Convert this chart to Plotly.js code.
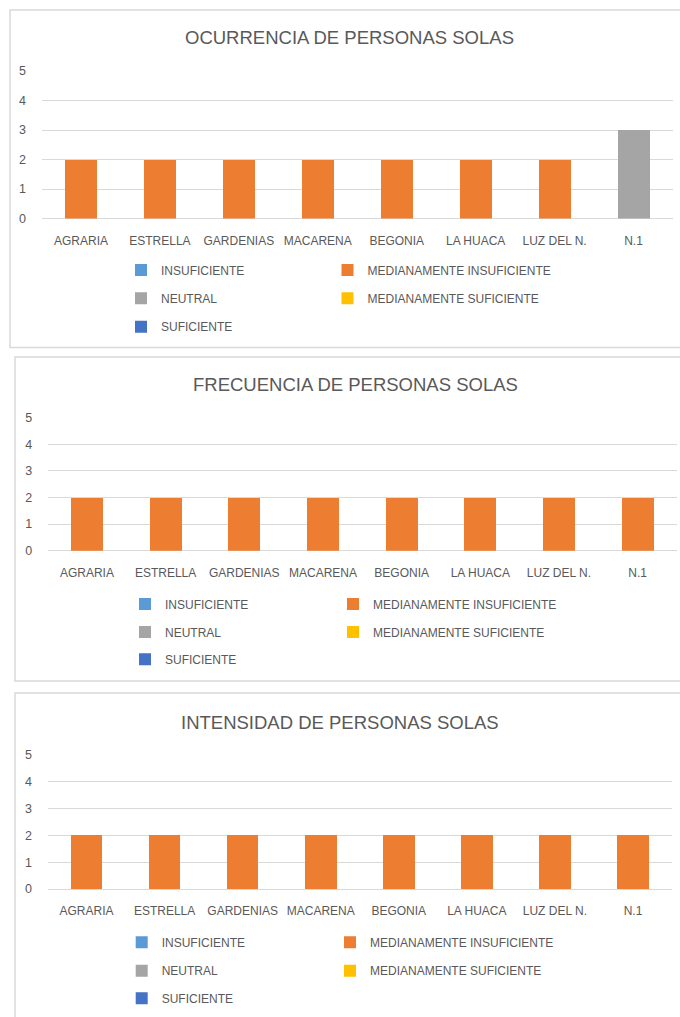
<!DOCTYPE html>
<html>
<head>
<meta charset="utf-8">
<script src="https://cdn.plot.ly/plotly-3.0.1.min.js"></script>
<style>
html,body{margin:0;padding:0;background:#fff;}
#chart{width:680px;height:1017px;}
</style>
</head>
<body>
<div id="chart"></div>
<script>
// ---- data ----
const categories = ["AGRARIA","ESTRELLA","GARDENIAS","MACARENA","BEGONIA","LA HUACA","LUZ DEL N.","N.1"];
const seriesNames = ["INSUFICIENTE","MEDIANAMENTE INSUFICIENTE","NEUTRAL","MEDIANAMENTE SUFICIENTE","SUFICIENTE"];
const chartTitles = ["OCURRENCIA DE PERSONAS SOLAS","FRECUENCIA DE PERSONAS SOLAS","INTENSIDAD DE PERSONAS SOLAS"];

// Ocurrencia
const ocurrenciaInsuficiente   = [0,0,0,0,0,0,0,0];
const ocurrenciaMedInsuf       = [2,2,2,2,2,2,2,0];
const ocurrenciaNeutral        = [0,0,0,0,0,0,0,3];
const ocurrenciaMedSuf         = [0,0,0,0,0,0,0,0];
const ocurrenciaSuficiente     = [0,0,0,0,0,0,0,0];
// Frecuencia
const frecuenciaInsuficiente   = [0,0,0,0,0,0,0,0];
const frecuenciaMedInsuf       = [2,2,2,2,2,2,2,2];
const frecuenciaNeutral        = [0,0,0,0,0,0,0,0];
const frecuenciaMedSuf         = [0,0,0,0,0,0,0,0];
const frecuenciaSuficiente     = [0,0,0,0,0,0,0,0];
// Intensidad
const intensidadInsuficiente   = [0,0,0,0,0,0,0,0];
const intensidadMedInsuf       = [2,2,2,2,2,2,2,2];
const intensidadNeutral        = [0,0,0,0,0,0,0,0];
const intensidadMedSuf         = [0,0,0,0,0,0,0,0];
const intensidadSuficiente     = [0,0,0,0,0,0,0,0];

const yTickVals = [0,1,2,3,4,5];

// ---- style ----
const colors = ["#5B9BD5","#ED7D31","#A5A5A5","#FFC000","#4472C4"];
const FONT = "'Liberation Sans', Arial, sans-serif";
const TXT = "#595959";
const GRID = "#D9D9D9";
const W = 680, H = 1017;
const px = v => v / W;
const py = v => 1 - v / H;

const chartSeries = [
  [ocurrenciaInsuficiente, ocurrenciaMedInsuf, ocurrenciaNeutral, ocurrenciaMedSuf, ocurrenciaSuficiente],
  [frecuenciaInsuficiente, frecuenciaMedInsuf, frecuenciaNeutral, frecuenciaMedSuf, frecuenciaSuficiente],
  [intensidadInsuficiente, intensidadMedInsuf, intensidadNeutral, intensidadMedSuf, intensidadSuficiente]
];

// layout geometry (pixels)
const geo = [
  {x0:41.5, x1:673, yTop:71,    yBot:218.5, title:[350,37.5],  box:[10,10,690,347.5],
   leg:{c1:161, c2:367.5, rows:[270,298.3,326.7]}},
  {x0:47.6, x1:677, yTop:417.7, yBot:550.7, title:[355.6,384], box:[15,357,690,681],
   leg:{c1:165, c2:373, rows:[604,632,659.3]}},
  {x0:47.5, x1:672, yTop:755,   yBot:889,   title:[340,722.3], box:[15,693,690,1030],
   leg:{c1:161.7, c2:370, rows:[942.3,970.7,998.3]}}
];
// legend slots: [col,row] for each series
const legSlots = [[1,0],[2,0],[1,1],[2,1],[1,2]];
const TEXTGAP = 40; // plotly legend text offset from legend left

const traces = [];
const layout = {
  width: W, height: H,
  margin: {l:0, r:0, t:0, b:0},
  paper_bgcolor: "#fff", plot_bgcolor: "rgba(0,0,0,0)",
  barmode: "stack",
  bargap: 0.595,
  font: {family: FONT, color: TXT, size: 12},
  showlegend: true,
  shapes: [], annotations: []
};

let legIdx = 0;
chartSeries.forEach((series, ci) => {
  const g = geo[ci];
  const sfx = ci === 0 ? "" : String(ci + 1);
  layout["xaxis" + sfx] = {
    domain: [px(g.x0), px(g.x1)],
    anchor: "y" + sfx,
    type: "category",
    tickangle: 0,
    showgrid: false, showline: false, zeroline: false,
    ticks: "outside", ticklen: 11, tickcolor: "rgba(0,0,0,0)",
    tickfont: {family: FONT, size: 12, color: TXT},
    fixedrange: true
  };
  layout["yaxis" + sfx] = {
    domain: [py(g.yBot), py(g.yTop)],
    anchor: "x" + sfx,
    range: [0, 5],
    tickvals: yTickVals,
    showgrid: true, gridcolor: GRID, gridwidth: 1.3,
    zeroline: true, zerolinecolor: GRID, zerolinewidth: 1.3,
    showline: false,
    ticks: "outside", ticklen: 12, tickcolor: "rgba(0,0,0,0)",
    tickfont: {family: FONT, size: 12.5, color: TXT},
    fixedrange: true
  };
  series.forEach((vals, si) => {
    legIdx++;
    const legName = legIdx === 1 ? "legend" : "legend" + legIdx;
    traces.push({
      type: "bar",
      x: categories, y: vals,
      name: seriesNames[si],
      xaxis: "x" + sfx, yaxis: "y" + sfx,
      marker: {color: colors[si], line: {width: 0}},
      legend: legName,
      hoverinfo: "x+y+name"
    });
    const slot = legSlots[si];
    const textX = slot[0] === 1 ? g.leg.c1 : g.leg.c2;
    layout[legName] = {
      x: px(textX - TEXTGAP), xanchor: "left",
      y: py(g.leg.rows[slot[1]]), yanchor: "middle",
      bgcolor: "rgba(0,0,0,0)", borderwidth: 0,
      font: {family: FONT, size: 12, color: TXT},
      orientation: "v"
    };
  });
  layout.annotations.push({
    xref: "paper", yref: "paper",
    x: px(g.title[0]), y: py(g.title[1]),
    xanchor: "center", yanchor: "middle",
    text: chartTitles[ci], showarrow: false,
    font: {family: FONT, size: 18.5, color: TXT}
  });
  layout.shapes.push({
    type: "rect", xref: "paper", yref: "paper", layer: "below",
    x0: px(g.box[0]), x1: px(g.box[2]), y0: py(g.box[1]), y1: py(g.box[3]),
    line: {color: GRID, width: 1.5}, fillcolor: "rgba(0,0,0,0)"
  });
});

Plotly.newPlot("chart", traces, layout, {displayModeBar: false});
</script>
</body>
</html>
